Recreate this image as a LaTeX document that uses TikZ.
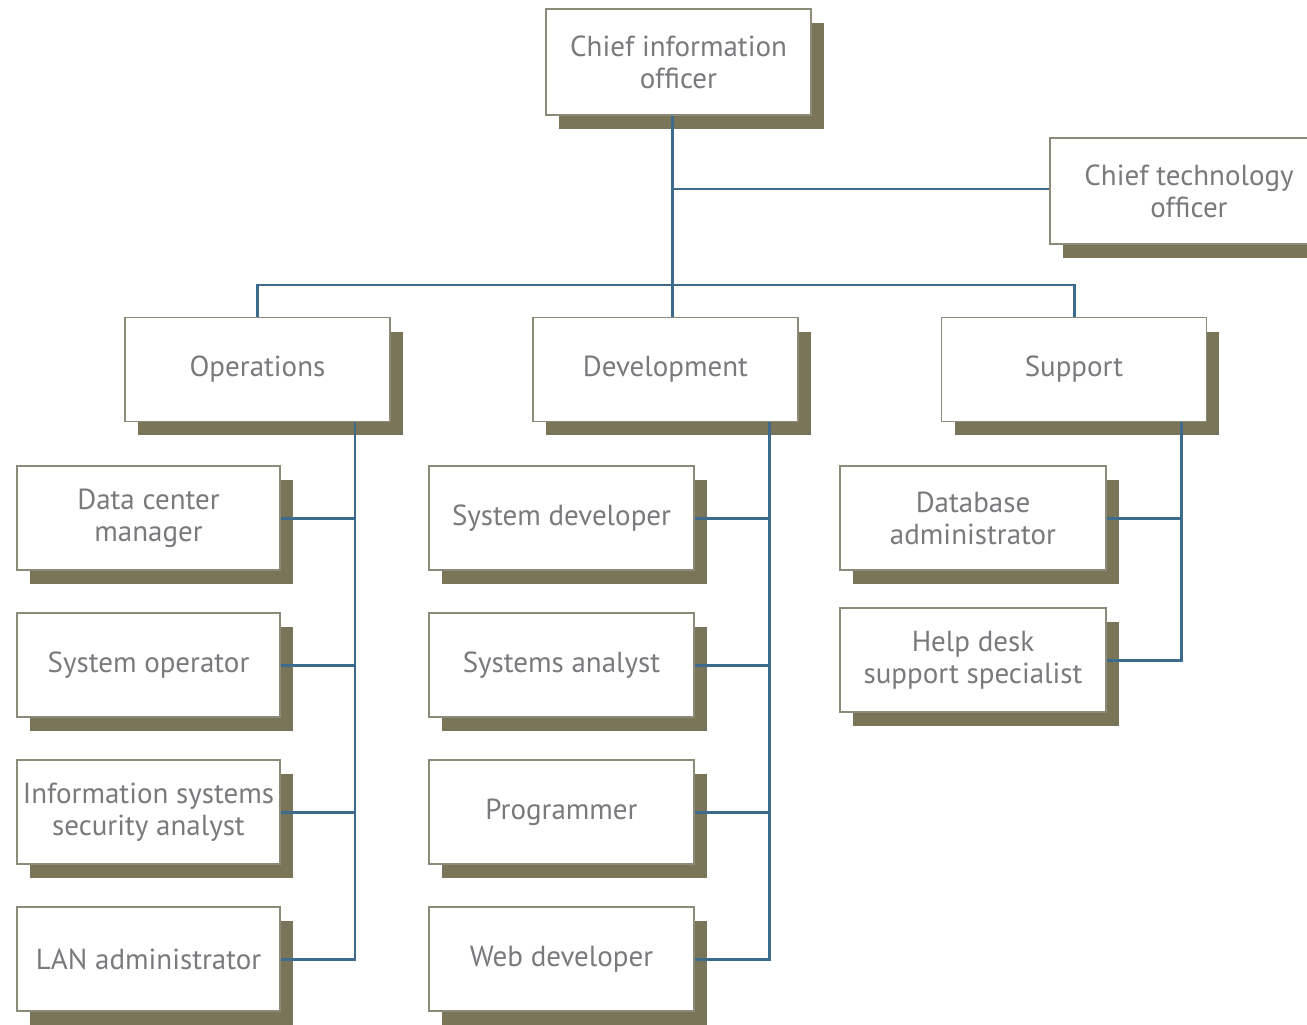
\documentclass[tikz,border=0pt]{standalone}
\usepackage{fontspec}
\setmainfont{PT Sans}
\usetikzlibrary{shadows}
\definecolor{boxedge}{HTML}{8C8A78}
\definecolor{shade}{HTML}{7A7458}
\definecolor{linkblue}{HTML}{3D6B8C}
\definecolor{txtgrey}{HTML}{7A7A7E}
\tikzset{
    role/.style={draw=boxedge, line width=0.8pt, fill=white, align=center,
        text=txtgrey, font=\fontsize{16.5}{18.2}\selectfont, inner sep=0pt,
        minimum width=5.3cm, minimum height=2.08cm,
        drop shadow={shadow xshift=0.26cm, shadow yshift=-0.28cm, fill=shade, opacity=1}},
    link/.style={draw=linkblue, line width=1.7pt}
}
\begin{document}
\begin{tikzpicture}[x=0.02cm, y=-0.02cm]
    \useasboundingbox (0,0) rectangle (1307,1024);
    % top level
    \node[role, minimum height=2.12cm] (cio) at (678.5,62) {Chief information\\officer};
    \node[role, minimum width=5.56cm, minimum height=2.12cm] (cto) at (1189,191) {Chief technology\\officer};
    % departments
    \node[role] (ops) at (257.5,369.5) {Operations};
    \node[role] (dev) at (665.5,369.5) {Development};
    \node[role] (sup) at (1074,369.5) {Support};
    % operations staff
    \node[role, minimum width=5.26cm] (dcm) at (148.5,518) {Data center\\manager};
    \node[role, minimum width=5.26cm] (sysop) at (148.5,665) {System operator};
    \node[role, minimum width=5.26cm] (isa) at (148.5,812) {Information systems\\security analyst};
    \node[role, minimum width=5.26cm] (lan) at (148.5,959) {LAN administrator};
    % development staff
    \node[role] (sysdev) at (561.5,518) {System developer};
    \node[role] (analyst) at (561.5,665) {Systems analyst};
    \node[role] (prog) at (561.5,812) {Programmer};
    \node[role] (web) at (561.5,959) {Web developer};
    % support staff
    \node[role, minimum width=5.32cm] (dba) at (973,518) {Database\\administrator};
    \node[role, minimum width=5.32cm] (help) at (973,660) {Help desk\\support specialist};

    % connectors
    \coordinate (jct) at (672,189);
    \coordinate (bus) at (672,285);
    \coordinate (opsx) at (355,0);
    \coordinate (devx) at (769,0);
    \coordinate (supx) at (1181,0);
    \draw[link] (cio.south -| jct) -- (dev.north -| jct);
    \draw[link] (jct) -- (jct -| cto.west);
    \draw[link] (ops.north) |- (bus) -| (sup.north);
    \draw[link] (ops.south -| opsx) |- (lan.east);
    \foreach \n in {dcm,sysop,isa}
        \draw[link] (\n.east) -- (\n.east -| opsx);
    \draw[link] (dev.south -| devx) |- (web.east);
    \foreach \n in {sysdev,analyst,prog}
        \draw[link] (\n.east) -- (\n.east -| devx);
    \draw[link] (sup.south -| supx) |- (help.east);
    \draw[link] (dba.east) -- (dba.east -| supx);
\end{tikzpicture}
\end{document}
